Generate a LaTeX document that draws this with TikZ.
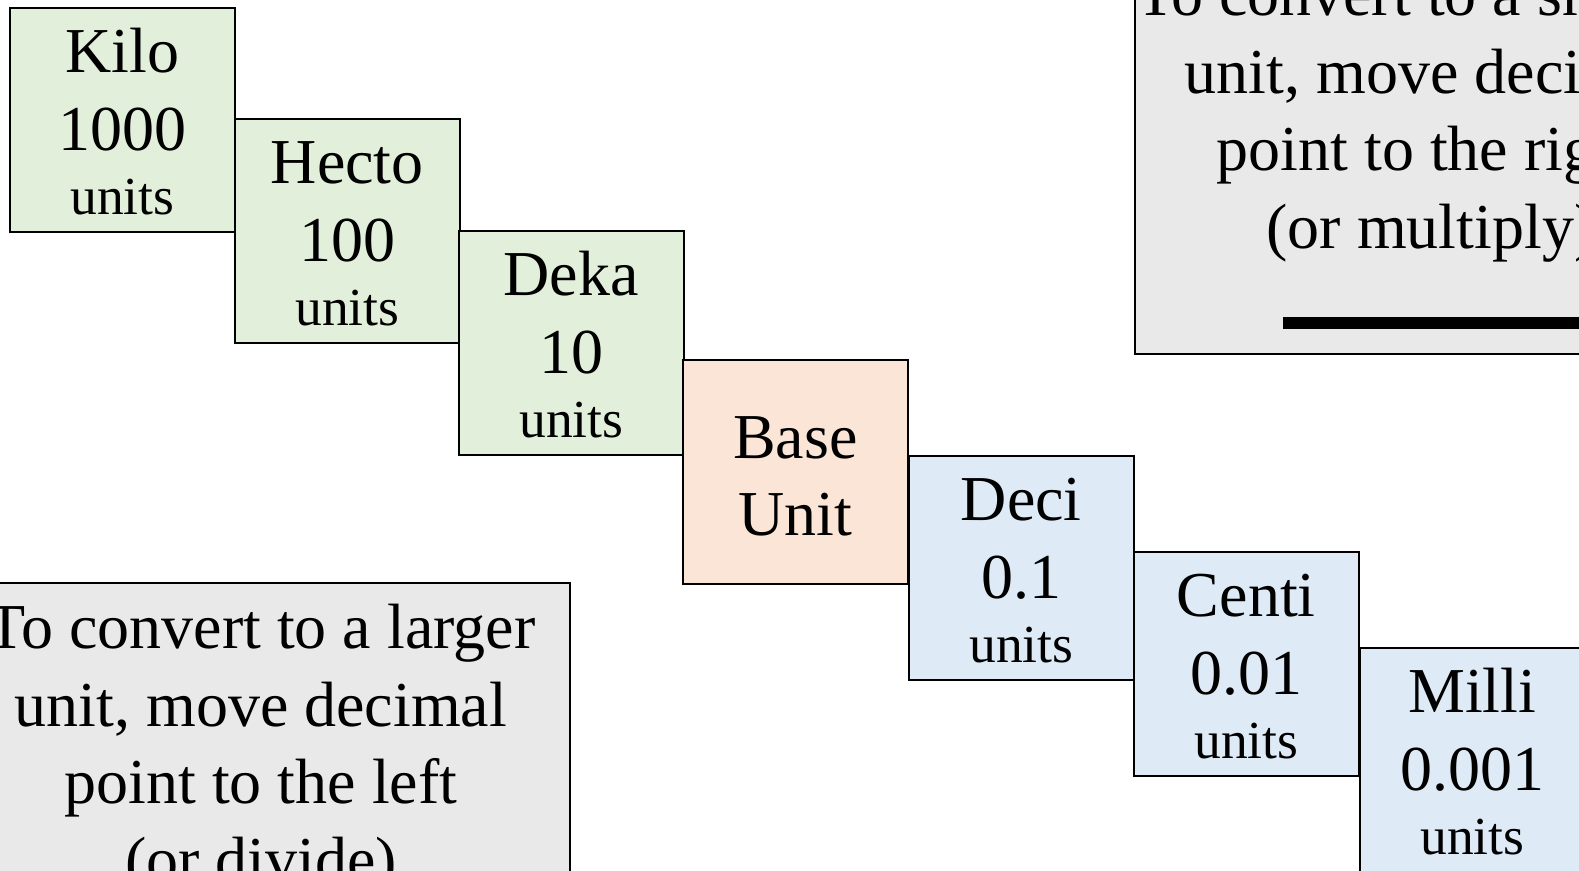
\documentclass[tikz,border=0pt]{standalone}
\usepackage{fontspec}
\setmainfont{Liberation Serif}
\usetikzlibrary{arrows.meta}
\definecolor{gfill}{HTML}{E2EFDA}
\definecolor{pfill}{HTML}{FBE5D6}
\definecolor{bfill}{HTML}{DEEBF7}
\definecolor{grfill}{HTML}{E9E9E9}
\newcommand{\mainsz}{\fontsize{64}{77.5}\selectfont}
\newcommand{\unitsz}{\fontsize{53.5}{64}\selectfont}
\newcommand{\leadstrut}[1]{\rule{0pt}{#1}}
\begin{document}
\begin{tikzpicture}[x=1pt,y=-1pt,
  unitbox/.style={draw=black, line width=1.6pt, minimum width=225pt, minimum height=224pt,
    inner sep=0pt, anchor=north west, align=center, font=\mainsz},
  bigger/.style={unitbox, fill=gfill},
  baseu/.style={unitbox, fill=pfill},
  smalleru/.style={unitbox, fill=bfill},
  notebox/.style={draw=black, line width=1.6pt, fill=grfill, minimum width=604pt,
    minimum height=405pt, inner sep=0pt, anchor=north west},
  notetext/.style={font=\mainsz, align=center, anchor=north, inner sep=0pt}]
\useasboundingbox (0,0) rectangle (1579,870);
\clip (0,0) rectangle (1579,870);
% note boxes
\node[notebox] (smallbox) at (1134,-52) {};
\node[notetext] (smalltext) at (1431,-29) {To convert to a smaller\\unit, move decimal\\point to the right\\(or multiply)};
\coordinate (arrS) at (1283,323);
\coordinate (arrE) at (1720,323);
\draw[line width=12pt, -{Triangle[length=40pt,width=40pt]}] (arrS) -- (arrE);
\node[notebox] (largebox) at (-35,582) {};
\node[notetext] (largetext) at (261,604) {To convert to a larger\\unit, move decimal\\point to the left\\(or divide)};
% unit boxes
\node[bigger] (kilo) at (9,7) {\leadstrut{48pt}Kilo\\1000\\[-13.5pt]{\unitsz units}};
\node[bigger] (hecto) at (234,118) {\leadstrut{48pt}Hecto\\100\\[-13.5pt]{\unitsz units}};
\node[bigger] (deka) at (458,230) {\leadstrut{48pt}Deka\\10\\[-13.5pt]{\unitsz units}};
\node[baseu] (base) at (682,359) {\leadstrut{51pt}Base\\Unit};
\node[smalleru] (deci) at (908,455) {\leadstrut{48pt}Deci\\0.1\\[-13.5pt]{\unitsz units}};
\node[smalleru] (centi) at (1133,551) {\leadstrut{48pt}Centi\\0.01\\[-13.5pt]{\unitsz units}};
\node[smalleru] (milli) at (1359,647) {\leadstrut{48pt}Milli\\0.001\\[-13.5pt]{\unitsz units}};
\end{tikzpicture}
\end{document}
